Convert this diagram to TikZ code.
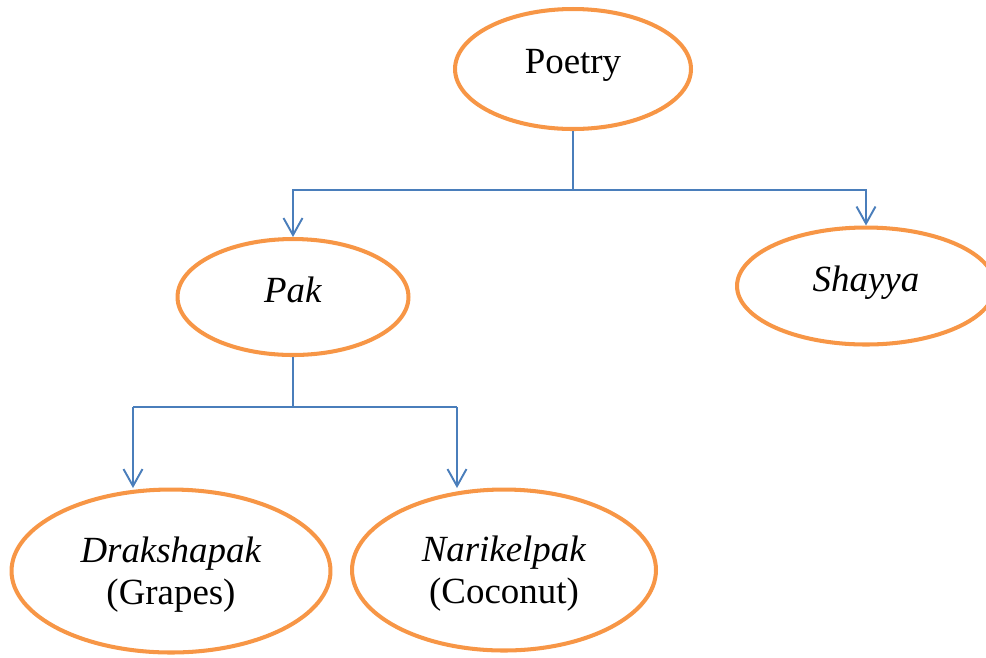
\documentclass[tikz,border=0pt]{standalone}
\usepackage{fontspec}
\setmainfont{Liberation Serif}
\usetikzlibrary{arrows.meta,positioning,shapes.geometric}
\definecolor{naranja}{HTML}{F79646}
\definecolor{azul}{HTML}{4A7EBB}

\tikzset{
  elipse/.style={ellipse,draw=naranja,line width=2.3pt,inner sep=0pt,align=center,
    font=\fontsize{21}{24}\selectfont},
  una/.style={elipse,text depth=8.6pt},
  dos/.style={elipse,text depth=0pt},
  rama/.style={azul,line width=1.1pt},
  flecha/.style={rama,-{Straight Barb[length=3.4mm,width=3.8mm]}}
}

\begin{document}
\begin{tikzpicture}[x=0.02cm,y=-0.02cm]
        \useasboundingbox (0,0) rectangle (986,657);
        \clip (0,0) rectangle (986,657);
        % nodos
        \node[una,minimum width=4.72cm,minimum height=2.4cm] (poetry) at (573,69) {Poetry};
        \node[una,minimum width=4.62cm,minimum height=2.32cm] (pak) at (293,297) {\textit{Pak}};
        \node[una,minimum width=5.16cm,minimum height=2.34cm] (shayya) at (866,286) {\textit{Shayya}};
        \node[dos,minimum width=6.38cm,minimum height=3.26cm] (draksha) at (171,571) {\textit{Drakshapak}\\(Grapes)};
        \node[dos,minimum width=6.08cm,minimum height=3.22cm] (narikel) at (504,570) {\textit{Narikelpak}\\(Coconut)};
        % ramas
        \coordinate (j1) at (poetry.south |- 0,190);
        \coordinate (j2) at (pak.south |- 0,407);
        \coordinate (d1) at (133,407);
        \coordinate (d2) at (457,407);
        \draw[rama] (poetry) -- (j1);
        \draw[flecha] (j1) -| (pak);
        \draw[flecha] (j1) -| (shayya);
        \draw[rama] (pak) -- (j2);
        \draw[rama] (d1) -- (d2);
        \draw[flecha] (d1) -- (d1 |- 0,488);
        \draw[flecha] (d2) -- (d2 |- 0,488);
      \end{tikzpicture}
\end{document}
